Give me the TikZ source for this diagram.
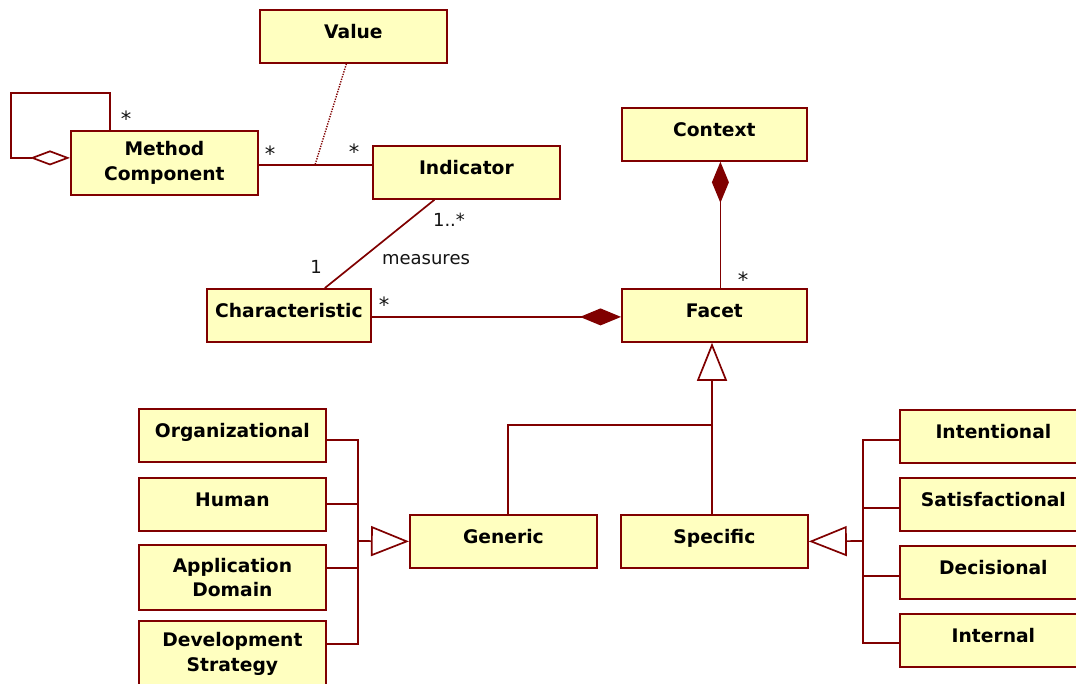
\documentclass[tikz,border=0pt]{standalone}
\usepackage{fontspec}
\setmainfont{DejaVu Sans}
\usetikzlibrary{arrows.meta}
\definecolor{umlred}{RGB}{128,0,0}
\definecolor{umlfill}{RGB}{255,255,192}
\definecolor{labelc}{RGB}{20,20,20}
\begin{document}
\begin{tikzpicture}[x=1pt,y=-1pt,
  box/.style={draw=umlred, fill=umlfill, line width=1.8pt, minimum width=187pt,
    inner sep=0pt, anchor=north west, font=\fontsize{18.7}{24.5}\selectfont\bfseries},
  cls/.style={box, minimum height=53pt, text height=13.5pt, text depth=10pt},
  cls2/.style={box, minimum height=65pt, align=center},
  conn/.style={draw=umlred, line width=1.7pt},
  dotline/.style={draw=umlred, line width=1.4pt, dash pattern=on 1.3pt off 1.3pt},
  mult/.style={font=\fontsize{18}{20}\selectfont, text=labelc, inner sep=0pt, anchor=base},
  star/.style={mult, font=\fontsize{21}{22}\selectfont},
  hdiam/.tip={Diamond[length=40pt, width=15pt, fill=white]},
  fdiam/.tip={Diamond[length=41pt, width=17pt, fill=umlred]},
  gtri/.tip={Triangle[length=38pt, width=30pt, fill=white]},
]
\useasboundingbox[fill=white] (0,0) rectangle (1076,683);

% classes
\node[cls] (val) at (259,9) {Value};
\node[cls2, minimum height=64pt] (mc) at (70,130) {Method\\Component};
\node[cls] (ind) at (372,145) {Indicator};
\node[cls, minimum width=185pt] (ctx) at (621,107) {Context};
\node[cls, minimum width=164pt] (char) at (206,288) {Characteristic};
\node[cls, minimum width=185pt] (facet) at (621,288) {Facet};
\node[cls] (org) at (138,408) {Organizational};
\node[cls] (hum) at (138,477) {Human};
\node[cls2] (app) at (138,544) {Application\\Domain};
\node[cls2, minimum height=66pt] (dev) at (138,620) {Development\\Strategy};
\node[cls] (gen) at (409,514) {Generic};
\node[cls] (spec) at (620,514) {Specific};
\node[cls] (int) at (899,409) {Intentional};
\node[cls] (sat) at (899,477) {Satisfactional};
\node[cls] (dec) at (899,545) {Decisional};
\node[cls] (inn) at (899,613) {Internal};

% Method Component self aggregation
\draw[conn, hdiam-] ([yshift=5pt]mc.west) -| (11,93) -| ([xshift=-54.5pt]mc.north);
\node[star] (m1) at (126,126) {*};

% Method Component -- Indicator with association class Value
\coordinate (ac) at (315,165);
\draw[conn] (mc.east |- ac) -- (ac) -- (ind.west |- ac);
\draw[dotline] ([xshift=-7pt]val.south) -- (ac);
\node[star] (m2) at (270,161) {*};
\node[star] (m3) at (354,159) {*};

% Indicator -- Characteristic (measures)
\draw[conn] ([xshift=-32pt]ind.south) -- ([xshift=36pt]char.north);
\node[mult] (m4) at (449,226) {1..*};
\node[mult] (m5) at (316,273) {1};
\node[mult] (lm) at (426,264) {measures};

% Characteristic -- Facet composition
\draw[conn, -fdiam] ([yshift=-1.5pt]char.east) -- ([yshift=-1.5pt]facet.west);
\node[star] (m6) at (384,312) {*};

% Context -- Facet composition
\draw[conn, fdiam-] ([xshift=6pt]ctx.south) -- ([xshift=6pt]facet.north);
\node[star] (m7) at (743,287) {*};

% Generalisation Generic/Specific -> Facet
\coordinate (gj) at (712,425);
\draw[conn, -gtri] (spec.north -| gj) -- (facet.south -| gj);
\draw[conn] (gen.north -| 508,0) |- (gj);

% Generic subclasses
\coordinate (gb1) at (358,440);
\coordinate (gb2) at (358,504);
\coordinate (gb3) at (358,568);
\coordinate (gb4) at (358,644);
\coordinate (gbt) at (358,541);
\draw[conn] (org.east |- gb1) -- (gb1) -- (gb4) -- (dev.east |- gb4);
\draw[conn] (hum.east |- gb2) -- (gb2);
\draw[conn] (app.east |- gb3) -- (gb3);
\draw[conn, -gtri] (gbt) -- (gen.west);

% Specific subclasses
\coordinate (sb1) at (863,440);
\coordinate (sb2) at (863,508);
\coordinate (sb3) at (863,576);
\coordinate (sb4) at (863,643);
\coordinate (sbt) at (863,541);
\draw[conn] (int.west |- sb1) -- (sb1) -- (sb4) -- (inn.west |- sb4);
\draw[conn] (sat.west |- sb2) -- (sb2);
\draw[conn] (dec.west |- sb3) -- (sb3);
\draw[conn, -gtri] (sbt) -- (spec.east);
\end{tikzpicture}
\end{document}
